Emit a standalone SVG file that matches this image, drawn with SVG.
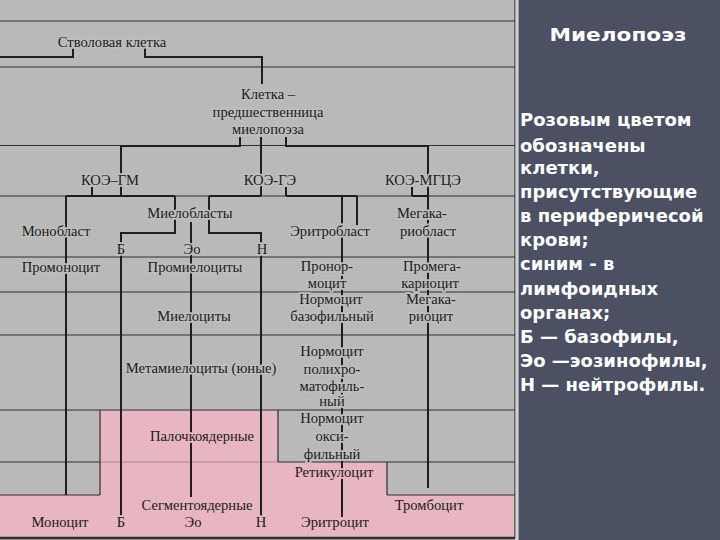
<svg xmlns="http://www.w3.org/2000/svg" width="720" height="540" viewBox="0 0 720 540">
<style>
.t{font-family:"Liberation Serif","Times New Roman",serif;font-size:14.6px;fill:#202020;text-anchor:middle;paint-order:stroke;stroke-width:3.5px;stroke-linejoin:round}
.g{stroke:#bdbdbd}
.p{stroke:#e8b6c1}
.rule{stroke:#2e2e2e;stroke-width:1.2;fill:none}
.con{stroke:#1e1e1e;stroke-width:2;fill:none}
.w{font-family:"DejaVu Sans","Verdana",sans-serif;font-weight:bold;fill:#ffffff;font-size:18px}
</style>
<rect x="0" y="0" width="518" height="540" fill="#b9b9b9"/>
<g id="pink-areas" fill="#e8b6c1">
<rect x="0" y="495" width="514" height="43"/>
<rect x="100" y="410" width="178" height="85"/>
<rect x="278" y="462" width="109" height="33"/>
</g>
<g id="rules" class="rule">
<line x1="0" y1="21" x2="515" y2="21"/>
<line x1="0" y1="67" x2="515" y2="67"/>
<line x1="0" y1="145.5" x2="515" y2="145.5"/>
<line x1="0" y1="196" x2="515" y2="196"/>
<line x1="0" y1="257" x2="515" y2="257"/>
<line x1="0" y1="292" x2="515" y2="292"/>
<line x1="0" y1="335" x2="515" y2="335"/>
<line x1="0" y1="410" x2="515" y2="410"/>
<line x1="0" y1="462" x2="100" y2="462"/>
<line x1="100" y1="462" x2="278" y2="462" stroke-opacity="0.35"/>
<line x1="278" y1="462" x2="515" y2="462"/>
<line x1="0" y1="495" x2="100" y2="495"/>
<line x1="387" y1="495" x2="515" y2="495"/>
<line x1="100" y1="410" x2="100" y2="495"/>
<line x1="278" y1="410" x2="278" y2="462"/>
<line x1="387" y1="462" x2="387" y2="495"/>
<line x1="515" y1="0" x2="515" y2="538"/>
<line x1="0" y1="538" x2="515" y2="538" stroke-width="2.5"/>
</g>
<g id="connectors" class="con">
<polyline points="0,57 73,57 73,48"/>
<polyline points="145,48 145,57 262,57 262,84"/>
<polyline points="240,137 240,146 121,146 121,196"/>
<line x1="261" y1="137" x2="261" y2="196"/>
<polyline points="286,137 286,146 428,146 428,488"/>
<line x1="92" y1="187" x2="92" y2="196"/>
<line x1="66" y1="196" x2="175" y2="196"/>
<line x1="66" y1="196" x2="66" y2="495"/>
<polyline points="175,196 175,233 121,233 121,517"/>
<line x1="209" y1="196" x2="261" y2="196"/>
<polyline points="209,196 209,233 261,233 261,517"/>
<line x1="191" y1="222" x2="191" y2="497"/>
<line x1="286" y1="187" x2="286" y2="196"/>
<line x1="286" y1="196" x2="357" y2="196"/>
<line x1="342" y1="196" x2="342" y2="517"/>
<line x1="357" y1="196" x2="357" y2="225"/>
<line x1="412" y1="187" x2="412" y2="196"/>
<line x1="412" y1="196" x2="428" y2="196"/>
</g>
<g id="n-stem"><text class="t g" x="112" y="47">Стволовая клетка</text></g>
<g id="n-precursor">
<text class="t g" x="268" y="99">Клетка –</text>
<text class="t g" x="268" y="117">предшественница</text>
<text class="t g" x="268" y="134">миелопоэза</text>
</g>
<g id="n-koe-gm"><text class="t g" x="110" y="185">КОЭ–ГМ</text></g>
<g id="n-koe-ge"><text class="t g" x="270" y="185">КОЭ-ГЭ</text></g>
<g id="n-koe-mgce"><text class="t g" x="423" y="185">КОЭ-МГЦЭ</text></g>
<g id="n-monoblast"><text class="t g" x="56" y="236">Монобласт</text></g>
<g id="n-myeloblast"><text class="t g" x="190" y="218">Миелобласты</text></g>
<g id="n-erythroblast"><text class="t g" x="330" y="236">Эритробласт</text></g>
<g id="n-megakaryoblast">
<text class="t g" x="422" y="218">Мегака-</text>
<text class="t g" x="428" y="236">риобласт</text>
</g>
<g id="n-b1"><text class="t g" x="121" y="254">Б</text></g>
<g id="n-eo1"><text class="t g" x="192" y="254">Эо</text></g>
<g id="n-n1"><text class="t g" x="262" y="254">Н</text></g>
<g id="n-promonocyte"><text class="t g" x="61" y="272">Промоноцит</text></g>
<g id="n-promyelocyte"><text class="t g" x="195" y="272">Промиелоциты</text></g>
<g id="n-pronormocyte">
<text class="t g" x="327" y="271">Пронор-</text>
<text class="t g" x="327" y="288">моцит</text>
</g>
<g id="n-promegakaryocyte">
<text class="t g" x="432" y="271">Промега-</text>
<text class="t g" x="430" y="288">кариоцит</text>
</g>
<g id="n-normo-baso">
<text class="t g" x="331" y="304">Нормоцит</text>
<text class="t g" x="332" y="321">базофильный</text>
</g>
<g id="n-megakaryocyte">
<text class="t g" x="431" y="304">Мегака-</text>
<text class="t g" x="431" y="321">риоцит</text>
</g>
<g id="n-myelocyte"><text class="t g" x="194" y="321">Миелоциты</text></g>
<g id="n-metamyelocyte"><text class="t g" x="201" y="373">Метамиелоциты (юные)</text></g>
<g id="n-normo-poly">
<text class="t g" x="332" y="356">Нормоцит</text>
<text class="t g" x="332" y="374">полихро-</text>
<text class="t g" x="332" y="391">матофиль-</text>
<text class="t g" x="332" y="406">ный</text>
</g>
<g id="n-normo-oxy">
<text class="t g" x="332" y="423">Нормоцит</text>
<text class="t g" x="332" y="441">окси-</text>
<text class="t g" x="332" y="459">фильный</text>
</g>
<g id="n-band"><text class="t p" x="202" y="441">Палочкоядерные</text></g>
<g id="n-reticulocyte"><text class="t p" x="334" y="477">Ретикулоцит</text></g>
<g id="n-segmented"><text class="t p" x="197" y="510">Сегментоядерные</text></g>
<g id="n-thrombocyte"><text class="t p" x="429" y="510">Тромбоцит</text></g>
<g id="n-monocyte"><text class="t p" x="60" y="527">Моноцит</text></g>
<g id="n-b2"><text class="t p" x="121" y="527">Б</text></g>
<g id="n-eo2"><text class="t p" x="193" y="527">Эо</text></g>
<g id="n-n2"><text class="t p" x="261" y="527">Н</text></g>
<g id="n-erythrocyte"><text class="t p" x="335" y="527">Эритроцит</text></g>
<rect x="515.5" y="0" width="3" height="540" fill="#d2d2d2"/>
<rect x="518.5" y="0" width="201.5" height="540" fill="#4b5062"/>
<g id="side-text">
<text class="w" x="618" y="41" text-anchor="middle" font-size="22" textLength="137" lengthAdjust="spacingAndGlyphs">Миелопоэз</text>
<text class="w" x="520" y="126">Розовым цветом</text>
<text class="w" x="520" y="152">обозначены</text>
<text class="w" x="520" y="174">клетки,</text>
<text class="w" x="520" y="198">присутствующие</text>
<text class="w" x="520" y="222">в периферичесой</text>
<text class="w" x="520" y="246">крови;</text>
<text class="w" x="520" y="270">синим - в</text>
<text class="w" x="520" y="295">лимфоидных</text>
<text class="w" x="520" y="319">органах;</text>
<text class="w" x="520" y="343"> Б — базофилы,</text>
<text class="w" x="520" y="367">Эо —эозинофилы,</text>
<text class="w" x="520" y="391">Н — нейтрофилы.</text>
</g>
</svg>
